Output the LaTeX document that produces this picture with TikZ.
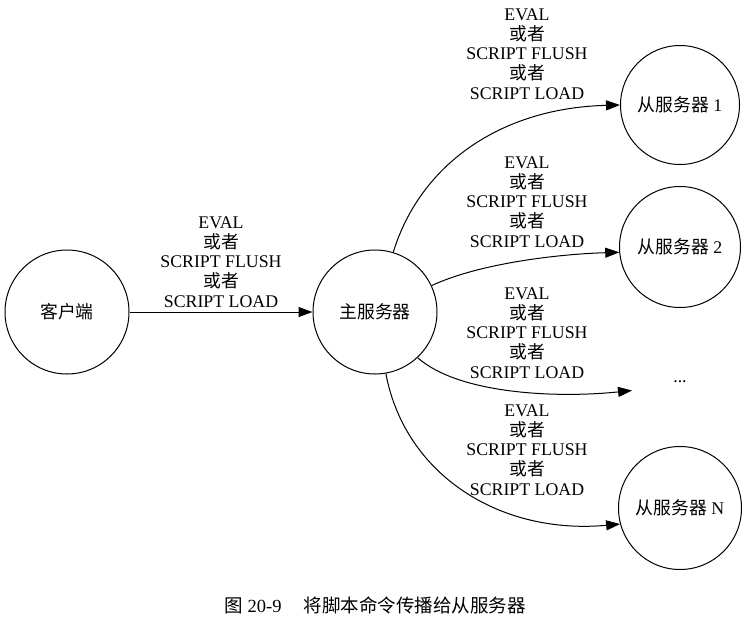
\documentclass[tikz,border=0pt]{standalone}
\usepackage{fontspec}
\setmainfont{Liberation Serif}
\newfontfamily\cjk{Noto Sans CJK SC}
\usetikzlibrary{arrows.meta}
\newcommand{\huozhe}{{\cjk 或者}}
\newcommand{\cmdtext}{EVAL\\\huozhe\\SCRIPT FLUSH\\\huozhe\\SCRIPT LOAD}
\newcommand{\lblfont}{\fontsize{17.8}{19.7}\selectfont}
\tikzstyle{server} = [draw=black,circle,line width=1pt,inner sep=0pt,font=\lblfont]
\tikzstyle{ghost} = [circle,inner sep=0pt,font=\lblfont]
\tikzstyle{cmd} = [align=center,inner sep=0pt,font=\lblfont]
\tikzstyle{edge} = [line width=1pt,-{Triangle[length=14pt,width=10pt]}]

\begin{document}
\begin{tikzpicture}[x=1pt,y=1pt]
\useasboundingbox (0,0) rectangle (747,-627);
% nodes
\node[server,minimum size=124pt] (client) at (67,-312) {{\cjk 客户端}};
\node[server,minimum size=124pt] (master) at (375,-312) {{\cjk 主服务器}};
\node[server,minimum size=119pt] (slave1) at (680,-105) {{\cjk 从服务器} 1};
\node[server,minimum size=121pt] (slave2) at (680,-247) {{\cjk 从服务器} 2};
\node[ghost,minimum size=97pt] (dots) at (680,-382) {...};
\node[server,minimum size=123pt] (slaveN) at (680,-508) {{\cjk 从服务器} N};
% edges
\draw[edge] (client) -- (master);
\draw[edge] (master.73) .. controls (420,-165) and (500,-108) .. (slave1.west);
\draw[edge] (master.25) .. controls (480,-263) and (560,-254) .. (slave2.185);
\draw[edge] (master.-47) .. controls (460,-395) and (560,-398) .. (dots.190);
\draw[edge] (master.-80) .. controls (405,-475) and (500,-535) .. (slaveN.195);
% labels
\node[cmd] (lab0) at (221,-262) {\cmdtext};
\node[cmd] (lab1) at (527,-54) {\cmdtext};
\node[cmd] (lab2) at (527,-202) {\cmdtext};
\node[cmd] (lab3) at (527,-333) {\cmdtext};
\node[cmd] (lab4) at (527,-450) {\cmdtext};
% caption
\node[font=\fontsize{18.5}{20}\selectfont] (caption) at (375,-605) {{\cjk 图} 20-9\hspace{22pt}{\cjk 将脚本命令传播给从服务器}};
\end{tikzpicture}
\end{document}
